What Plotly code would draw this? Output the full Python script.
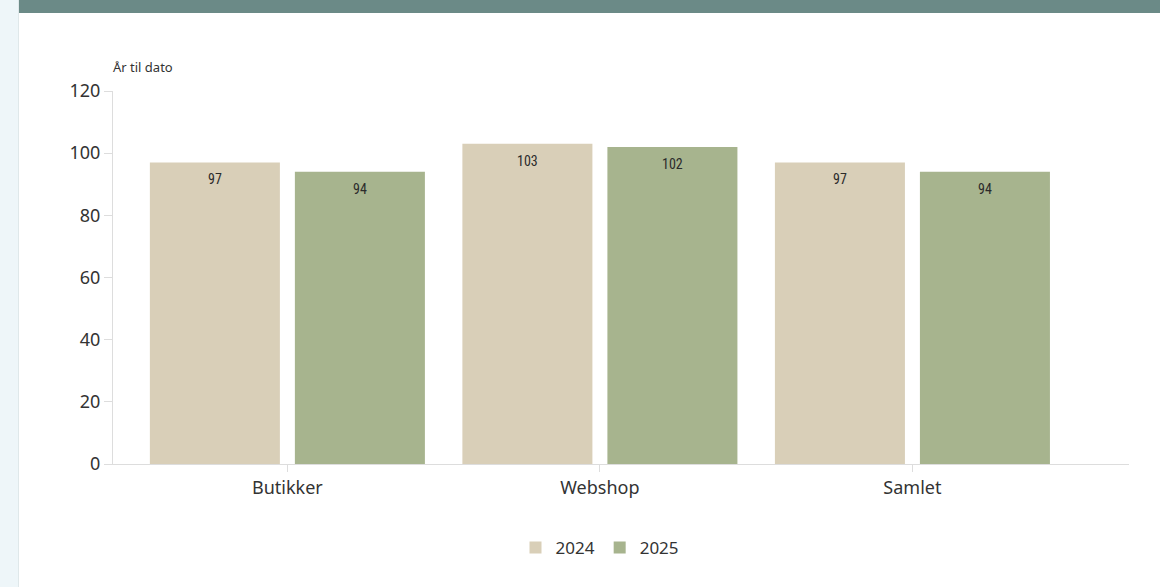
import plotly.graph_objects as go

categories = ["Butikker", "Webshop", "Samlet"]
series_names = ["2024", "2025"]
values_2024 = [97, 103, 97]
values_2025 = [94, 102, 94]
y_ticks = [0, 20, 40, 60, 80, 100, 120]
axis_title = "År til dato"

colors = ["#d9cfb8", "#a7b48e"]
label_font = dict(family="Liberation Sans Narrow, Roboto Condensed, Arial Narrow, sans-serif", size=14, color="#2b2b2b")

fig = go.Figure()
for name, vals, col in zip(series_names, [values_2024, values_2025], colors):
    fig.add_trace(go.Bar(
        x=categories, y=vals, name=name, marker=dict(color=col, line=dict(width=0)),
        hoverinfo="x+y",
    ))

W, H = 1160, 587
left, right, top, bottom = 113, 31, 91, 123
pw, ph = W - left - right, H - top - bottom

annotations = [
    dict(text=axis_title, xref="paper", yref="paper", x=(111 - left) / pw,
         y=1 + (91 - 67) / ph, xanchor="left", yanchor="middle",
         showarrow=False, font=dict(size=13, color="#333333")),
]
for shift, vals in zip([-72.5, 72.5], [values_2024, values_2025]):
    for c, v in zip(categories, vals):
        annotations.append(dict(text=str(v), x=c, y=v, xref="x", yref="y",
                                xshift=shift, yshift=-7, xanchor="center", yanchor="top",
                                showarrow=False, font=label_font))

fig.update_layout(
    width=W, height=H,
    margin=dict(l=left, r=right, t=top, b=bottom, autoexpand=False),
    paper_bgcolor="white", plot_bgcolor="white",
    barmode="group", bargap=0.072, bargroupgap=0.1034,
    font=dict(family="Noto Sans, Open Sans, sans-serif", color="#333333"),
    showlegend=True,
    legend=dict(orientation="h", x=(600 - left) / pw, xanchor="center",
                y=-84 / ph, yanchor="middle", font=dict(size=17, color="#333333"),
                traceorder="normal", itemwidth=30),
    xaxis=dict(range=[-0.558, 2.693], showgrid=False, showline=True, linecolor="#dddddd",
               linewidth=1, ticks="outside", ticklen=7, tickcolor="#dddddd",
               tickfont=dict(size=18, color="#333333"), zeroline=False),
    yaxis=dict(range=[0, 120], tickvals=y_ticks, showgrid=False, showline=True,
               linecolor="#dddddd", linewidth=1, ticks="outside", ticklen=8,
               tickcolor="#dddddd", tickfont=dict(size=18, color="#333333"), zeroline=False),
    shapes=[
        dict(type="rect", xref="paper", yref="paper",
             x0=-left / pw, x1=(18 - left) / pw,
             y0=-bottom / ph, y1=1 + top / ph,
             fillcolor="#eef6f9", line=dict(width=0), layer="below"),
        dict(type="line", xref="paper", yref="paper",
             x0=(18.5 - left) / pw, x1=(18.5 - left) / pw,
             y0=-bottom / ph, y1=1 + top / ph,
             line=dict(color="#dfe8ea", width=1), layer="below"),
        dict(type="rect", xref="paper", yref="paper",
             x0=(19 - left) / pw, x1=1 + right / pw,
             y0=1 + (top - 13) / ph, y1=1 + top / ph,
             fillcolor="#6b8a87", line=dict(width=0), layer="above"),
    ],
    annotations=annotations,
)

fig.write_html("out.html")
